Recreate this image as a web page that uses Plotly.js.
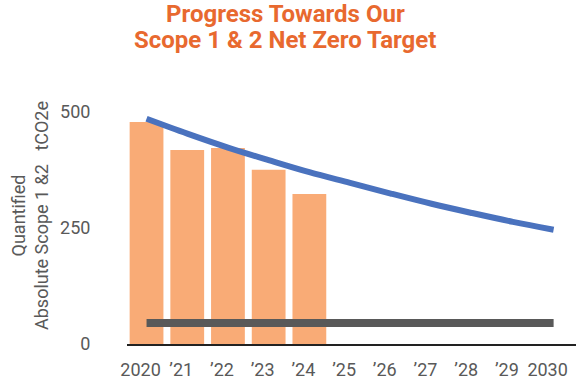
<!DOCTYPE html>
<html>
<head>
<meta charset="utf-8">
<script src="https://cdn.plot.ly/plotly-3.0.1.min.js"></script>
<style>html,body{margin:0;padding:0;background:#fff;}#chart{width:576px;height:384px;}</style>
</head>
<body>
<div id="chart"></div>
<script>
var years = ["2020", "\u201921", "\u201922", "\u201923", "\u201924", "\u201925", "\u201926", "\u201927", "\u201928", "\u201929", "2030"];
var actualYears = ["2020", "\u201921", "\u201922", "\u201923", "\u201924"];
var actual = [478, 418, 422, 375, 323];
var target = [485, 453, 423, 396, 370, 347, 324, 302, 282, 263, 246];
var netZero = [45, 45, 45, 45, 45, 45, 45, 45, 45, 45, 45];
var yTicks = [0, 250, 500];
var titleLines = ['Progress Towards Our', 'Scope 1 & 2 Net Zero Target'];

var gray = '#595959';
var orange = '#E8692F';
var traces = [
  {type: 'bar', x: actualYears, y: actual, marker: {color: '#F9AB76'}, hoverinfo: 'skip'},
  {type: 'scatter', mode: 'lines', x: years, y: netZero, line: {color: '#595959', width: 8}, hoverinfo: 'skip'},
  {type: 'scatter', mode: 'lines', x: years, y: target, line: {color: '#4A72BE', width: 6, shape: 'spline'}, hoverinfo: 'skip'}
];

var layout = {
  width: 576, height: 384,
  margin: {l: 127, r: 0, t: 90, b: 40},
  paper_bgcolor: '#fff', plot_bgcolor: '#fff',
  showlegend: false,
  bargap: 0.17,
  font: {family: 'Roboto, sans-serif', color: gray, size: 18},
  xaxis: {
    type: 'category', categoryorder: 'array', categoryarray: years,
    range: [-0.48, 10.55],
    showline: true, linecolor: '#222', linewidth: 1.5,
    showgrid: false, zeroline: false,
    ticks: 'outside', ticklen: 9, tickcolor: 'rgba(0,0,0,0)',
    ticklabelshift: -6,
    tickfont: {size: 18, color: gray}
  },
  yaxis: {
    range: [0, 547],
    tickvals: yTicks,
    showgrid: false, zeroline: false, showline: false,
    ticks: 'outside', ticklen: 32, tickcolor: 'rgba(0,0,0,0)',
    tickfont: {size: 18, color: gray}
  },
  annotations: [{
    text: 'Quantified<br>Absolute Scope 1 &2\u00A0\u00A0\u00A0tCO2e',
    textangle: -90,
    xref: 'paper', yref: 'paper',
    x: -0.216, y: 0.504, xanchor: 'center', yanchor: 'middle',
    showarrow: false,
    font: {size: 18, color: gray}
  }, {
    text: titleLines[0],
    xref: 'paper', yref: 'paper', x: 0.352, y: 1.301,
    xanchor: 'center', yanchor: 'middle', showarrow: false,
    font: {size: 24, color: orange, weight: 'bold'}
  }, {
    text: titleLines[1],
    xref: 'paper', yref: 'paper', x: 0.352, y: 1.197,
    xanchor: 'center', yanchor: 'middle', showarrow: false,
    font: {size: 24, color: orange, weight: 'bold'}
  }]
};

Plotly.newPlot('chart', traces, layout, {displayModeBar: false, staticPlot: true});
</script>
</body>
</html>
